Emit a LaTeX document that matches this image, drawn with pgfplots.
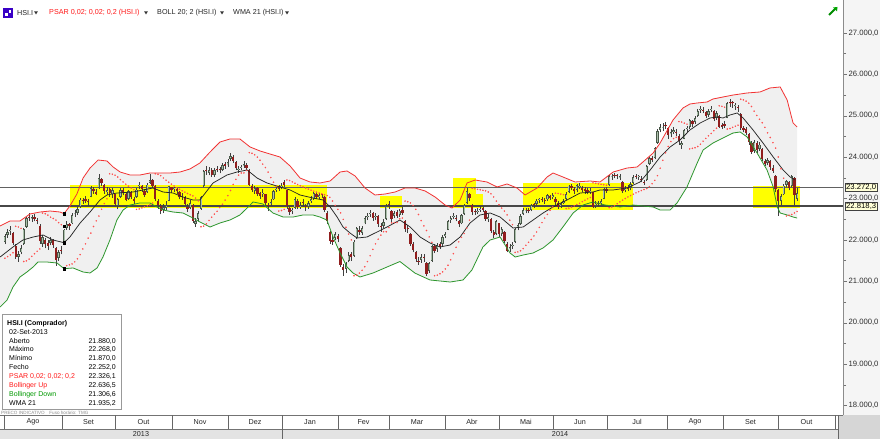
\documentclass[border=0pt]{standalone}
\usepackage{pgfplots}
\pgfplotsset{compat=1.18}
\usepackage{pgfplotstable}
\usepackage{fontspec}
\setmainfont{Liberation Sans}
\definecolor{upo}{RGB}{72,88,72}
\definecolor{upi}{RGB}{172,192,172}
\definecolor{dnc}{RGB}{145,30,30}
\definecolor{bbred}{RGB}{242,50,50}
\definecolor{bbgreen}{RGB}{45,150,45}
\definecolor{sarred}{RGB}{255,80,80}
\definecolor{hl}{RGB}{255,255,0}
\definecolor{boxy}{RGB}{255,255,215}
\pgfplotsset{
  colormap={udout}{color(0)=(dnc) color(1)=(upo)},
  colormap={udin}{color(0)=(dnc) color(1)=(upi)},
}

% i open high low close psar
\pgfplotstableread{
i o h l c s
0 21950 22150 21900 22088 21560
1 22120 22260 22060 22190 21600
2 22210 22330 22130 22222 21640
3 22180 22200 21880 21923 21690
4 21860 21900 21550 21588 22330
5 21600 21740 21480 21655 22314
6 21700 21880 21650 21807 22281
7 21900 22300 21880 22271 21480
8 22320 22560 22290 22523 21496
9 22560 22650 22470 22541 21539
10 22520 22600 22430 22539 21606
11 22560 22620 22450 22517 21669
12 22480 22530 22380 22463 21728
13 22350 22380 21900 21970 21783
14 21900 22120 21830 22069 22650
15 22000 22060 21800 21895 22634
16 21920 21990 21760 21863 22601
17 21920 22080 21870 22005 22551
18 22000 22030 21810 21874 22520
19 21800 21830 21380 21524 22480
20 21560 21760 21500 21704 22420
21 21760 21850 21650 21731 22370
22 21880 22268 21870 22252 22326
23 22300 22450 22250 22394 21380
24 22380 22420 22250 22326 21401
25 22400 22640 22380 22597 21422
26 22620 22720 22550 22621 21471
27 22650 22790 22600 22750 21546
28 22800 23020 22780 22976 21646
29 22950 23020 22880 22938 21783
30 22980 23060 22900 22953 21907
31 22920 22990 22830 22915 22045
32 23050 23300 23030 23252 22167
33 23220 23270 23120 23180 22326
34 23150 23230 23080 23117 22462
35 23250 23600 23240 23502 22579
36 23480 23500 23310 23371 22742
37 23330 23350 23120 23179 22879
38 23150 23290 23090 23209 22994
39 23230 23260 23050 23126 23600
40 23100 23260 23020 23207 23589
41 23100 23120 22820 22859 23566
42 22820 23020 22740 22984 23521
43 23050 23250 23010 23214 23459
44 23200 23260 23080 23138 23402
45 23100 23130 22930 22973 23349
46 23000 23210 22970 23178 23300
47 23150 23190 22990 23033 23255
48 22980 23050 22880 22951 23214
49 23050 23260 23020 23218 22740
50 23300 23400 23230 23336 22750
51 23300 23340 23170 23228 22776
52 23180 23230 23050 23094 22801
53 23150 23370 23130 23340 22825
54 23380 23600 23360 23438 22848
55 23450 23480 23260 23315 22893
56 23300 23320 22930 22999 23600
57 22950 22990 22760 22835 23587
58 22820 22870 22620 22698 23554
59 22720 22880 22650 22806 23498
60 22780 22930 22720 22846 23445
61 22950 23310 22940 23304 23396
62 23280 23290 23140 23206 23349
63 23230 23290 23150 23249 23305
64 23240 23250 23120 23189 23264
65 23150 23180 22980 23038 23225
66 23060 23140 22960 23036 23189
67 23020 23060 22830 22881 23155
68 22800 22860 22680 22744 23123
69 22780 22960 22740 22901 23093
70 22850 22880 22420 22463 23065
71 22380 22520 22320 22464 23013
72 22500 22700 22460 22649 22944
73 22750 23070 22730 23032 22320
74 23300 23700 23280 23660 22335
75 23680 23780 23580 23657 22390
76 23620 23770 23560 23700 22473
77 23700 23740 23530 23580 22551
78 23560 23730 23520 23696 22625
79 23720 23790 23640 23684 22694
80 23700 23770 23610 23681 22782
81 23700 23850 23660 23806 22863
82 23830 23880 23720 23789 22962
83 23800 23950 23760 23881 23072
84 23950 24110 23900 24038 23195
85 24000 24060 23860 23910 23341
86 23880 23900 23680 23728 23464
87 23700 23780 23620 23712 23567
88 23740 23820 23680 23743 23620
89 23800 23900 23740 23811 23620
90 23800 23850 23690 23744 23680
91 23700 23720 23300 23338 24110
92 23300 23350 23160 23218 24094
93 23180 23310 23120 23245 24057
94 23250 23290 23060 23114 24001
95 23130 23170 23000 23069 23926
96 23100 23230 23050 23143 23833
97 23100 23120 22830 22888 23750
98 22850 22900 22700 22813 23640
99 22870 22990 22820 22921 23508
100 22980 23200 22960 23179 23395
101 23200 23280 23170 23243 23298
102 23260 23330 23190 23244 22700
103 23280 23380 23220 23306 22713
104 23400 23450 23290 23340 22740
105 23200 23210 22760 22817 23450
106 22780 22800 22600 22684 23436
107 22700 22780 22620 22712 23403
108 22780 23030 22760 22996 23371
109 22950 22980 22740 22787 23340
110 22800 22920 22750 22846 23310
111 22900 22980 22800 22888 23282
112 22820 22870 22700 22791 23255
113 22800 22950 22750 22902 23229
114 22950 23060 22900 22987 23204
115 23000 23170 22960 23133 23180
116 23100 23150 22980 23033 23157
117 23050 23130 22990 23082 23135
118 23100 23100 23020 23083 23114
119 23050 23060 22680 22734 23093
120 22650 22690 22380 22451 23073
121 22200 22220 21900 21976 23031
122 22000 22100 21880 21960 22941
123 22050 22200 21990 22141 22835
124 22100 22150 21950 22035 22740
125 21800 21830 21350 21397 22654
126 21350 21420 21137 21270 22498
127 21300 21480 21200 21424 22307
128 21500 21700 21460 21636 22143
129 21650 21700 21500 21579 22002
130 21620 22000 21600 21962 21137
131 22050 22320 22030 22285 21154
132 22250 22330 22130 22197 21201
133 22180 22340 22120 22299 21269
134 22400 22580 22380 22535 21355
135 22550 22650 22480 22587 21478
136 22620 22720 22560 22664 21619
137 22650 22680 22470 22536 21773
138 22550 22640 22480 22568 21906
139 22580 22600 22320 22388 22020
140 22350 22420 22200 22318 22118
141 22350 22500 22300 22437 22200
142 22500 22860 22480 22828 22200
143 22850 22940 22760 22837 22300
144 22700 22720 22420 22500 22415
145 22580 22700 22520 22658 22420
146 22680 22730 22530 22579 22420
147 22600 22760 22560 22712 22514
148 22720 22790 22600 22660 22530
149 22450 22480 22200 22264 22940
150 22300 22360 22180 22269 22925
151 22150 22170 21850 21901 22895
152 21900 21960 21700 21756 22832
153 21700 21740 21480 21539 22741
154 21500 21580 21400 21473 22615
155 21520 21650 21450 21583 22469
156 21600 21660 21480 21568 22341
157 21450 21480 21137 21182 22228
158 21250 21480 21200 21436 22075
159 21500 21880 21480 21846 21944
160 21850 21900 21680 21732 21137
161 21780 21930 21720 21887 21152
162 21900 21950 21780 21834 21184
163 21900 22110 21860 22065 21230
164 22100 22200 22040 22151 21300
165 22250 22480 22230 22448 21390
166 22480 22580 22420 22523 21521
167 22560 22640 22500 22565 21669
168 22540 22600 22450 22510 21824
169 22450 22490 22310 22377 21955
170 22400 22630 22380 22596 22065
171 22620 22880 22600 22843 22157
172 22900 23250 22880 23187 22287
173 23100 23130 22950 23003 22480
174 22850 22870 22600 22671 23250
175 22700 22760 22600 22672 23237
176 22680 22780 22620 22697 23224
177 22720 22820 22680 22760 23212
178 22780 22830 22680 22730 23200
179 22700 22720 22460 22509 23188
180 22500 22620 22430 22563 23159
181 22500 22520 22170 22223 23115
182 22200 22250 22050 22132 23039
183 22150 22480 22120 22453 22940
184 22400 22420 22080 22134 22851
185 22150 22320 22100 22260 22771
186 22200 22220 21920 21976 22699
187 21900 21940 21700 21746 22606
188 21780 21900 21720 21837 22479
189 21850 21950 21780 21863 22370
190 21950 22290 21930 22261 21700
191 22280 22400 22230 22352 21712
192 22380 22620 22360 22582 21740
193 22620 22780 22600 22730 21793
194 22700 22770 22640 22712 21872
195 22720 22780 22640 22704 21945
196 22720 22870 22690 22834 22012
197 22840 22900 22780 22836 22098
198 22860 22990 22820 22953 22194
199 22960 23020 22900 22965 22305
200 22980 23030 22910 22963 22419
201 22970 23010 22880 22944 22529
202 22980 23120 22950 23080 22619
203 23060 23090 22960 23010 22719
204 23030 23130 22990 23081 22799
205 23000 23030 22850 22908 23130
206 22890 22930 22760 22805 23124
207 22830 22920 22780 22876 23109
208 22900 23000 22860 22951 23095
209 22990 23150 22970 23118 22760
210 23150 23340 23130 23316 22768
211 23300 23360 23200 23257 22791
212 23230 23280 23120 23175 22825
213 23200 23350 23150 23319 22857
214 23280 23380 23220 23300 22887
215 23260 23300 23150 23203 22926
216 23220 23270 23120 23181 22962
217 23200 23250 23100 23168 22995
218 23170 23260 23120 23194 23026
219 23150 23160 22780 22805 23380
220 22830 22950 22780 22881 23368
221 22900 22940 22800 22866 23356
222 22890 23000 22850 22932 23344
223 23000 23260 22980 23221 23333
224 23230 23280 23140 23191 23322
225 23320 23580 23300 23549 22780
226 23520 23600 23460 23531 22796
227 23560 23620 23490 23547 22828
228 23560 23600 23470 23540 22876
229 23500 23600 23440 23541 22921
230 23400 23420 23130 23176 22963
231 23200 23300 23150 23238 23002
232 23260 23320 23180 23233 23039
233 23250 23390 23200 23346 23074
234 23380 23560 23350 23523 23107
235 23540 23600 23470 23530 23138
236 23520 23580 23450 23520 23167
237 23480 23540 23390 23454 23194
238 23400 23450 23320 23387 23220
239 23450 23800 23430 23782 23244
240 23830 24000 23800 23971 23288
241 23980 24040 23880 23940 23359
242 23980 24250 23950 24216 23441
243 24350 24680 24330 24640 23554
244 24650 24800 24600 24733 23734
245 24700 24830 24630 24732 23926
246 24760 24860 24680 24756 24107
247 24700 24720 24450 24533 24258
248 24550 24680 24480 24600 24378
249 24620 24720 24560 24648 24450
250 24600 24680 24520 24584 24480
251 24520 24560 24300 24387 24860
252 24300 24400 24200 24331 24849
253 24450 24680 24430 24646 24823
254 24680 24760 24600 24689 24798
255 24720 24920 24690 24890 24200
256 24870 24900 24740 24801 24214
257 24850 25000 24800 24955 24228
258 25000 25160 24970 25122 24259
259 25130 25230 25070 25159 24313
260 25150 25220 25060 25123 24386
261 25080 25120 24940 24994 24454
262 25020 25160 24980 25112 24516
263 25150 25240 25080 25166 24573
264 25120 25150 24870 24918 24640
265 24950 25110 24900 25075 24700
266 25000 25020 24700 24741 25240
267 24780 24830 24680 24742 25229
268 24800 24870 24700 24752 25207
269 24950 25340 24940 25318 24680
270 25330 25400 25220 25298 24693
271 25300 25362 25200 25297 24721
272 25230 25300 25150 25240 24748
273 25200 25260 25100 25190 24774
274 25050 25060 24660 24705 25400
275 24700 24760 24600 24662 25385
276 24680 24720 24530 24595 25354
277 24550 24580 24300 24357 25305
278 24350 24380 24080 24136 25225
279 24150 24420 24100 24376 25111
280 24350 24380 24100 24168 25008
281 24200 24360 24150 24306 24915
282 24200 24220 23900 23955 24832
283 23920 23960 23780 23837 24720
284 23850 23990 23800 23921 24588
285 23900 23930 23700 23768 24475
286 23750 23800 23620 23678 24351
287 23550 23560 23150 23229 24219
288 23200 23220 22580 22932 24005
289 22950 23120 22850 23064 23720
290 23100 23350 23080 23315 23492
291 23330 23460 23280 23422 22580
292 23400 23420 23200 23263 22598
293 23300 23560 23280 23534 22615
294 23500 23510 22850 23088 22653
295 23000 23250 22950 23143 22689
}\candles

\pgfplotstableread{
i v
-1.8 22338
1.9 22459
5.6 22459
9.3 22628
13.1 22676
16.8 22700
20.5 22676
22 22636
24.2 22821
26.8 23111
29.1 23497
31.7 23739
34.7 23932
38.0 23908
40.3 23763
42.9 23642
46.6 23570
50.3 23570
54.0 23618
57.8 23618
61.5 23618
65.2 23642
68.9 23715
72.6 23860
76.4 24126
80.1 24367
83.8 24440
87.5 24440
91.3 24246
95.0 24150
98.7 24077
102.4 24005
106.2 23787
109.9 23497
113.6 23401
117.3 23377
121.1 23425
124.8 23642
127.4 23667
130.4 23546
134.1 23256
137.8 23087
141.6 23111
145.3 23159
149.0 23256
152.7 23256
156.5 23183
160.2 23038
163.9 22845
166.5 22773
169.5 22966
172.1 23377
175.1 23449
179.5 23401
183.3 23280
187.0 23353
190.7 23256
193.7 23087
198.2 23256
201.9 23522
204.1 23618
207.8 23522
212.3 23401
217.9 23425
221.6 23401
226.5 23642
231.7 23739
235.4 23763
237.6 23884
241.4 24101
244.0 24343
248.8 24898
252.5 25188
255.1 25285
257.8 25309
261.5 25333
263.7 25406
267.4 25454
271.2 25502
276.4 25551
281.2 25575
284.9 25672
288.7 25696
291.3 25382
293.5 24826
295 24729
}\bbup

\pgfplotstableread{
i v
-1.8 20381
0.8 20551
3.0 20864
5.6 21106
8.2 21227
10.5 21348
12.3 21468
15.7 21468
19.4 21444
22 21307
25.4 21324
29.1 21227
31.7 21203
34.3 21324
36.5 21589
39.1 22000
41.7 22483
44.0 22724
46.6 22845
50.3 22894
54.0 22894
56.6 22797
58.9 22724
62.6 22676
66.3 22652
70.0 22531
72.6 22435
76.4 22314
80.1 22411
83.8 22483
87.5 22604
90.2 22773
92.4 22918
96.1 22870
99.8 22652
103.6 22555
107.3 22555
111.0 22604
114.7 22604
117.3 22555
119.9 22483
122.2 22072
124.8 21686
127.4 21348
129.6 21203
132.2 21106
137.1 21203
142.3 21348
147.1 21480
152.7 21200
158.3 21034
165.8 20985
170.6 21034
173.9 21275
178.0 21831
180.7 22000
184.4 22072
188.1 21686
190.0 21589
193.0 21637
196.7 21686
200.4 21807
204.1 22000
207.8 22314
211.6 22652
215.3 22845
219.0 22918
223.5 22845
229.1 22797
233.9 22845
241.4 22797
244.0 22724
247.7 22724
250.3 22894
254.0 23280
257.8 23860
260.0 24174
263.7 24343
267.4 24464
271.2 24585
273.8 24609
276.4 24488
280.1 24101
283.8 23691
286.1 23280
287.6 22797
288.7 22652
291.3 22604
293.5 22555
295 22530
}\bbdn

% band outline: upper band forward, lower band back
\pgfplotstableread{
i v
-1.8 22338
1.9 22459
5.6 22459
9.3 22628
13.1 22676
16.8 22700
20.5 22676
22 22636
24.2 22821
26.8 23111
29.1 23497
31.7 23739
34.7 23932
38.0 23908
40.3 23763
42.9 23642
46.6 23570
50.3 23570
54.0 23618
57.8 23618
61.5 23618
65.2 23642
68.9 23715
72.6 23860
76.4 24126
80.1 24367
83.8 24440
87.5 24440
91.3 24246
95.0 24150
98.7 24077
102.4 24005
106.2 23787
109.9 23497
113.6 23401
117.3 23377
121.1 23425
124.8 23642
127.4 23667
130.4 23546
134.1 23256
137.8 23087
141.6 23111
145.3 23159
149.0 23256
152.7 23256
156.5 23183
160.2 23038
163.9 22845
166.5 22773
169.5 22966
172.1 23377
175.1 23449
179.5 23401
183.3 23280
187.0 23353
190.7 23256
193.7 23087
198.2 23256
201.9 23522
204.1 23618
207.8 23522
212.3 23401
217.9 23425
221.6 23401
226.5 23642
231.7 23739
235.4 23763
237.6 23884
241.4 24101
244.0 24343
248.8 24898
252.5 25188
255.1 25285
257.8 25309
261.5 25333
263.7 25406
267.4 25454
271.2 25502
276.4 25551
281.2 25575
284.9 25672
288.7 25696
291.3 25382
293.5 24826
295 24729
295 22530
293.5 22555
291.3 22604
288.7 22652
287.6 22797
286.1 23280
283.8 23691
280.1 24101
276.4 24488
273.8 24609
271.2 24585
267.4 24464
263.7 24343
260.0 24174
257.8 23860
254.0 23280
250.3 22894
247.7 22724
244.0 22724
241.4 22797
233.9 22845
229.1 22797
223.5 22845
219.0 22918
215.3 22845
211.6 22652
207.8 22314
204.1 22000
200.4 21807
196.7 21686
193.0 21637
190.0 21589
188.1 21686
184.4 22072
180.7 22000
178.0 21831
173.9 21275
170.6 21034
165.8 20985
158.3 21034
152.7 21200
147.1 21480
142.3 21348
137.1 21203
132.2 21106
129.6 21203
127.4 21348
124.8 21686
122.2 22072
119.9 22483
117.3 22555
114.7 22604
111.0 22604
107.3 22555
103.6 22555
99.8 22652
96.1 22870
92.4 22918
90.2 22773
87.5 22604
83.8 22483
80.1 22411
76.4 22314
72.6 22435
70.0 22531
66.3 22652
62.6 22676
58.9 22724
56.6 22797
54.0 22894
50.3 22894
46.6 22845
44.0 22724
41.7 22483
39.1 22000
36.5 21589
34.3 21324
31.7 21203
29.1 21227
25.4 21324
22 21307
19.4 21444
15.7 21468
12.3 21468
10.5 21348
8.2 21227
5.6 21106
3.0 20864
0.8 20551
-1.8 20381
}\bband

\pgfplotstableread{
i v
-1.8 21589
3.0 21831
6.7 22000
10.5 22072
14.2 22121
17.9 22000
22 21935
24.2 22072
28.0 22411
31.7 22676
35.4 22966
38.0 23087
41.7 23135
47.7 23159
51.4 23208
55.1 23256
58.9 23159
62.6 23135
66.3 23038
70.0 22966
72.6 22966
77.5 23377
82.7 23570
86.4 23642
90.2 23691
93.9 23497
97.6 23377
102.4 23280
106.2 23208
109.9 23087
114.7 23014
118.5 22966
121.1 22797
123.7 22555
125.9 22314
128.5 22169
131.1 22048
134.8 22072
138.6 22193
142.3 22314
147.1 22483
150.9 22314
154.6 22072
158.3 21927
162.0 21831
165.8 21879
169.5 22072
173.2 22411
176.9 22604
180.7 22652
184.4 22555
187.0 22411
189.2 22290
193.0 22314
196.7 22483
200.4 22652
204.1 22797
209.3 22966
214.2 23135
219.0 23159
221.6 23208
226.5 23208
231.7 23256
236.5 23401
240.3 23691
244.0 24005
247.7 24246
251.4 24415
255.1 24657
258.9 24826
262.6 24947
265.2 24971
267.4 24947
270.0 25019
272.7 25068
274.9 24947
278.6 24657
282.3 24343
286.1 24005
289.8 23691
292.4 23522
294.3 23449
}\wma

\begin{document}
\begin{tikzpicture}
\fill[white] (0pt,0pt) rectangle (843pt,415pt);
\fill[black!4] (843pt,0pt) rectangle (880pt,415pt);
\begin{axis}[
  at={(0pt,0pt)}, anchor=south west,
  width=843pt, height=415pt, scale only axis,
  xmin=-1.84, xmax=312.1, ymin=17772.7, ymax=27797,
  axis x line*=bottom, axis y line*=right,
  xtick=\empty,
  ytick={18000,19000,...,27000},
  minor y tick num=1,
  tick align=outside,
  major tick length=4pt, minor tick length=3pt,
  every tick/.style={black!55, line width=0.5pt},
  axis line style={black!45, line width=0.6pt},
  scaled y ticks=false,
  yticklabel style={font=\fontsize{7.7}{8}\selectfont, text=black!82, xshift=-2pt,
    /pgf/number format/.cd, fixed, fixed zerofill, precision=1, use comma, 1000 sep={.}, assume math mode=true},
]
% band fill
\addplot[fill=black!6, draw=none, forget plot] table[x=i,y=v]{\bband} -- cycle;
% yellow highlight zones
\fill[hl] (axis cs:24.2,22773) rectangle (axis cs:120.0,23328);
\fill[hl] (axis cs:139.7,22773) rectangle (axis cs:147.9,23063);
\fill[hl] (axis cs:166.9,22773) rectangle (axis cs:175.4,23497);
\fill[hl] (axis cs:175.4,22773) rectangle (axis cs:178.1,23111);
\fill[hl] (axis cs:192.9,22724) rectangle (axis cs:233.9,23377);
\fill[hl] (axis cs:278.6,22773) rectangle (axis cs:296.1,23304);
% horizontal reference lines
\addplot[black!62, line width=1.1pt, forget plot] coordinates {(-1.84,23272) (312.1,23272)};
\addplot[black!72, line width=1.4pt, forget plot] coordinates {(-1.84,22818.3) (312.1,22818.3)};
% wicks (low to high)
\addplot[forget plot, black!75, line width=0.5pt,
  quiver={u=0, v=\thisrow{h}-\thisrow{l}}]
  table[x=i, y=l]{\candles};
% bodies: dark outline, then lighter inside for rising candles
\addplot[forget plot, line width=2.3pt, colormap name=udout,
  point meta=explicit, point meta min=0, point meta max=1,
  quiver={u=0, v={max(abs(\thisrow{c}-\thisrow{o}),25)}, colored}]
  table[x=i, y expr={min(\thisrow{o},\thisrow{c})}, meta expr={1-(\thisrow{c}<\thisrow{o})}]{\candles};
\addplot[forget plot, line width=0.9pt, colormap name=udin,
  point meta=explicit, point meta min=0, point meta max=1,
  quiver={u=0, v={max(abs(\thisrow{c}-\thisrow{o})-44,1)}, colored}]
  table[x=i, y expr={min(\thisrow{o},\thisrow{c})+22}, meta expr={1-(\thisrow{c}<\thisrow{o})}]{\candles};
% bollinger lines and WMA
\addplot[bbred, line width=0.8pt, forget plot] table[x=i,y=v]{\bbup};
\addplot[bbgreen, line width=0.8pt, forget plot] table[x=i,y=v]{\bbdn};
\addplot[black!85, line width=0.75pt, forget plot] table[x=i,y=v]{\wma};
% PSAR
\addplot[only marks, mark=*, mark size=0.55pt, sarred, mark options={draw=none, fill=sarred}, forget plot] table[x=i,y=s]{\candles};
% cursor markers (02-Set-2013)
\addplot[only marks, mark=square*, mark size=1.2pt, black, forget plot] coordinates {(22,22636.5) (22,22326.1) (22,21935.2) (22,21306.6)};
\end{axis}

% value boxes on the price scale
\node[anchor=west, fill=boxy, draw=black!75, inner sep=1pt, font=\fontsize{7.7}{8}\selectfont] at (845pt,227.7pt) {23.272,0};
\node[anchor=west, fill=boxy, draw=black!75, inner sep=1pt, font=\fontsize{7.7}{8}\selectfont] at (845pt,208.9pt) {22.818,3};

% toolbar
\fill[blue!55!violet] (3pt,397pt) rectangle (13pt,407pt);
\fill[white] (5pt,399pt) rectangle (8pt,402pt);
\fill[white] (9pt,402pt) rectangle (11pt,405pt);
\begin{scope}[font=\fontsize{7.2}{8}\selectfont]
\node[anchor=west, inner sep=0pt, text=black!85] at (17pt,402pt) {HSI.I};
\node[anchor=west, inner sep=0pt, text=red!90] at (49pt,402pt) {PSAR 0,02; 0,02; 0,2 (HSI.I)};
\node[anchor=west, inner sep=0pt, text=black!85] at (157pt,402pt) {BOLL 20; 2 (HSI.I)};
\node[anchor=west, inner sep=0pt, text=black!85] at (233pt,402pt) {WMA 21 (HSI.I)};
\end{scope}
\foreach \tx in {36,146,222,287} {\fill[black!80] (\tx pt-1.8pt,403.5pt) -- (\tx pt+1.8pt,403.5pt) -- (\tx pt,400.5pt) -- cycle;}
\draw[line width=1.8pt, green!55!black] (829pt,400pt) -- (836pt,407pt);
\fill[green!65!black] (833pt,407.5pt) -- (837.5pt,408pt) -- (837pt,403.5pt) -- cycle;

% info box
\draw[black!40, fill=white] (2pt,6pt) rectangle (121pt,101pt);
\begin{scope}[font=\fontsize{7}{8}\selectfont]
\node[anchor=base west, inner sep=0pt, font=\fontsize{7}{8}\selectfont\bfseries] at (7pt,89.5pt) {HSI.I (Comprador)};
\node[anchor=base west, inner sep=0pt] at (9pt,80.5pt) {02-Set-2013};
\node[anchor=base west, inner sep=0pt] at (9pt,71.5pt) {Aberto};
\node[anchor=base east, inner sep=0pt] at (116pt,71.5pt) {21.880,0};
\node[anchor=base west, inner sep=0pt] at (9pt,63.5pt) {Máximo};
\node[anchor=base east, inner sep=0pt] at (116pt,63.5pt) {22.268,0};
\node[anchor=base west, inner sep=0pt] at (9pt,54.5pt) {Mínimo};
\node[anchor=base east, inner sep=0pt] at (116pt,54.5pt) {21.870,0};
\node[anchor=base west, inner sep=0pt] at (9pt,45.5pt) {Fecho};
\node[anchor=base east, inner sep=0pt] at (116pt,45.5pt) {22.252,0};
\node[anchor=base west, inner sep=0pt, text=red!90] at (9pt,36.5pt) {PSAR 0,02; 0,02; 0,2};
\node[anchor=base east, inner sep=0pt] at (116pt,36.5pt) {22.326,1};
\node[anchor=base west, inner sep=0pt, text=red!90] at (9pt,27.5pt) {Bollinger Up};
\node[anchor=base east, inner sep=0pt] at (116pt,27.5pt) {22.636,5};
\node[anchor=base west, inner sep=0pt, text=green!60!black] at (9pt,18.5pt) {Bollinger Down};
\node[anchor=base east, inner sep=0pt] at (116pt,18.5pt) {21.306,6};
\node[anchor=base west, inner sep=0pt] at (9pt,9.5pt) {WMA 21};
\node[anchor=base east, inner sep=0pt] at (116pt,9.5pt) {21.935,2};
\end{scope}
\node[anchor=base west, inner sep=0pt, text=black!45, font=\fontsize{4.6}{5}\selectfont] at (1pt,1pt) {PRECO INDICATIVO\quad Fuso horário: TMG};

% date band
\fill[white] (0pt,-14pt) rectangle (838pt,0pt);
\fill[black!11] (0pt,-24pt) rectangle (838pt,-14pt);
\fill[black!16] (838pt,-24pt) rectangle (880pt,0pt);
\draw[black!55, line width=0.5pt] (0pt,-14pt) -- (838pt,-14pt);
\draw[black!55, line width=0.5pt] (0pt,-0.3pt) -- (843pt,-0.3pt);
\foreach \x in {4,62,115,172,228,282,338,389,445,499,553,607,667,723,778,835}
  {\draw[black!60, line width=0.5pt] (\x pt,0pt) -- (\x pt,-14pt);}
\draw[black!60, line width=0.5pt] (282pt,-14pt) -- (282pt,-24pt);
\draw[black!60, line width=0.5pt] (838pt,0pt) -- (838pt,-24pt);
\begin{scope}[font=\fontsize{7.2}{8}\selectfont, text=black!85]
\foreach \x/\m in {33/Ago,88.5/Set,143.5/Out,200/Nov,255/Dez,310/Jan,363.5/Fev,417/Mar,472/Abr,526/Mai,580/Jun,637/Jul,695/Ago,750.5/Set,806.5/Out}
  {\node at (\x pt,-7pt) {\m};}
\node at (141pt,-19.3pt) {2013};
\node at (560pt,-19.3pt) {2014};
\end{scope}
\pgfresetboundingbox
\useasboundingbox (0pt,-24pt) rectangle (880pt,415pt);
\end{tikzpicture}
\end{document}
